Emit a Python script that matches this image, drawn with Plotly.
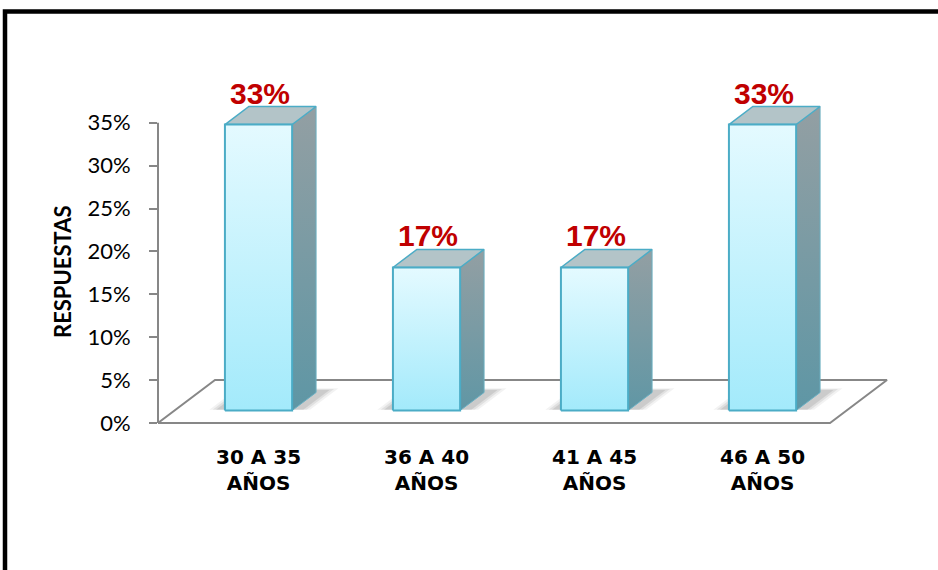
import plotly.graph_objects as go

# ---- data ---------------------------------------------------------------
categories = ["30 A 35<br>AÑOS", "36 A 40<br>AÑOS", "41 A 45<br>AÑOS", "46 A 50<br>AÑOS"]
values = [33.33, 16.67, 16.67, 33.33]          # share of answers, in percent
y_tick_values = [0, 5, 10, 15, 20, 25, 30, 35]
y_tick_labels = ["0%", "5%", "10%", "15%", "20%", "25%", "30%", "35%"]

# ---- geometry of the oblique (pseudo 3-D) projection --------------------
PX_PER_CAT = 168.0          # horizontal pixels per category slot
PX_PER_PCT = 8.58           # vertical pixels per percentage point
DX = 57.0 / PX_PER_CAT      # depth shift along x (data units per unit depth)
DY = 43.0 / PX_PER_PCT      # depth shift along y (data units per unit depth)
BAR_HALF = 0.2              # half bar width, in category units
D_FRONT, D_BACK = 0.29, 0.71

# plot area in pixels
W, H = 938, 570
L, R, T, B = 158, 905, 60, 440
X_MIN = -0.5
X_MAX = X_MIN + (R - L) / PX_PER_CAT
Y_ZERO_PX = 423
Y_MIN = -(B - Y_ZERO_PX) / PX_PER_PCT
Y_MAX = (Y_ZERO_PX - T) / PX_PER_PCT


def proj(c, v, d):
    """Map a point (category, value, depth) to 2-D data coordinates."""
    return c + d * DX, v + d * DY


def poly(points):
    xs, ys = zip(*[proj(*p) for p in points])
    return list(xs) + [xs[0]], list(ys) + [ys[0]]


def px_to_paper_x(px):
    return (px - L) / (R - L)


def px_to_paper_y(py):
    return (B - py) / (B - T)


FRONT_TOP, FRONT_BOTTOM = "#E4FAFF", "#A3EAFB"
SIDE_TOP, SIDE_BOTTOM = "#939FA3", "#5C96A5"
TOP_FACE = "#B3C4C8"
EDGE = "#4BACC6"
AXIS_GRAY = "#878787"

fig = go.Figure()

# floor
fx, fy = poly([(X_MIN, 0, 0), (len(values) - 0.5, 0, 0),
               (len(values) - 0.5, 0, 1), (X_MIN, 0, 1)])
fig.add_trace(go.Scatter(x=fx, y=fy, mode="lines", fill="toself",
                         fillcolor="white", line=dict(color=AXIS_GRAY, width=2),
                         hoverinfo="skip", showlegend=False))

for i, v in enumerate(values):
    cl, cr = i - BAR_HALF, i + BAR_HALF

    # soft shadow on the floor behind the base of the bar
    for k, alpha in enumerate([0.05, 0.07, 0.09]):
        grow = 0.06 - 0.02 * k
        sx, sy = poly([(cl - 0.04 - grow, 0, D_FRONT + 0.02), (cr + 0.04 + grow, 0, D_FRONT + 0.02),
                       (cr + 0.04 + grow, 0, D_BACK + 0.04 + grow), (cl - 0.04 - grow, 0, D_BACK + 0.04 + grow)])
        fig.add_trace(go.Scatter(x=sx, y=sy, mode="lines", fill="toself",
                                 fillcolor=f"rgba(0,0,0,{alpha})", line=dict(width=0),
                                 hoverinfo="skip", showlegend=False))

    # right side face
    sx, sy = poly([(cr, 0, D_FRONT), (cr, 0, D_BACK), (cr, v, D_BACK), (cr, v, D_FRONT)])
    fig.add_trace(go.Scatter(
        x=sx, y=sy, mode="lines", fill="toself",
        fillgradient=dict(type="vertical", start=0, stop=v + D_BACK * DY,
                          colorscale=[[0, SIDE_BOTTOM], [1, SIDE_TOP]]),
        line=dict(color="#6AAFC2", width=1), hoverinfo="skip", showlegend=False))

    # top face
    tx, ty = poly([(cl, v, D_FRONT), (cr, v, D_FRONT), (cr, v, D_BACK), (cl, v, D_BACK)])
    fig.add_trace(go.Scatter(x=tx, y=ty, mode="lines", fill="toself",
                             fillcolor=TOP_FACE, line=dict(color=EDGE, width=1.5),
                             hoverinfo="skip", showlegend=False))

    # front face
    y0 = D_FRONT * DY
    ffx, ffy = poly([(cl, 0, D_FRONT), (cr, 0, D_FRONT), (cr, v, D_FRONT), (cl, v, D_FRONT)])
    fig.add_trace(go.Scatter(
        x=ffx, y=ffy, mode="lines", fill="toself",
        fillgradient=dict(type="vertical", start=y0, stop=y0 + v,
                          colorscale=[[0, FRONT_BOTTOM], [1, FRONT_TOP]]),
        line=dict(color=EDGE, width=2), hoverinfo="skip", showlegend=False))

    # value label, centred over the front face and resting on the back edge of the top
    lx = proj(i, v, D_FRONT)[0] + 0.008
    ly = proj(i, v, D_BACK)[1]
    fig.add_annotation(x=lx, y=ly, text=f"{v:.0f}%", showarrow=False,
                       xanchor="center", yanchor="bottom", yshift=-5,
                       font=dict(family="Liberation Sans, Arial", size=30,
                                 color="#C00000", weight="bold"))

# value axis line (front-left edge)
fig.add_shape(type="line", xref="paper", yref="y", x0=0, x1=0,
              y0=y_tick_values[0], y1=y_tick_values[-1],
              line=dict(color=AXIS_GRAY, width=2))

# axis title
fig.add_annotation(xref="paper", yref="paper", x=px_to_paper_x(62), y=px_to_paper_y(272),
                   text="RESPUESTAS", textangle=-90, showarrow=False,
                   xanchor="center", yanchor="middle",
                   font=dict(family="Lato, Liberation Sans", size=22, color="black", weight="bold"))

# chart frame
fig.add_shape(type="rect", xref="paper", yref="paper",
              x0=px_to_paper_x(5), x1=px_to_paper_x(960),
              y0=px_to_paper_y(11.5), y1=px_to_paper_y(600),
              line=dict(color="black", width=4.5))

fig.update_layout(
    width=W, height=H, autosize=False,
    margin=dict(l=L, r=W - R, t=T, b=H - B, pad=0),
    paper_bgcolor="white", plot_bgcolor="white",
    showlegend=False,
    xaxis=dict(range=[X_MIN, X_MAX], showgrid=False, zeroline=False, showline=False,
               tickvals=[proj(i, 0, D_FRONT)[0] for i in range(len(categories))],
               ticktext=categories, ticks="", ticklabelstandoff=3,
               tickfont=dict(family="DejaVu Sans", size=20, color="black", weight="bold"),
               automargin=False, fixedrange=True),
    yaxis=dict(range=[Y_MIN, Y_MAX], showgrid=False, zeroline=False, showline=False,
               tickvals=y_tick_values, ticktext=y_tick_labels,
               ticks="outside", ticklen=8, tickwidth=2, tickcolor=AXIS_GRAY,
               ticklabelstandoff=14,
               tickfont=dict(family="Lato, Liberation Sans", size=22, color="black"),
               automargin=False, fixedrange=True),
)

fig.write_html("out.html")
